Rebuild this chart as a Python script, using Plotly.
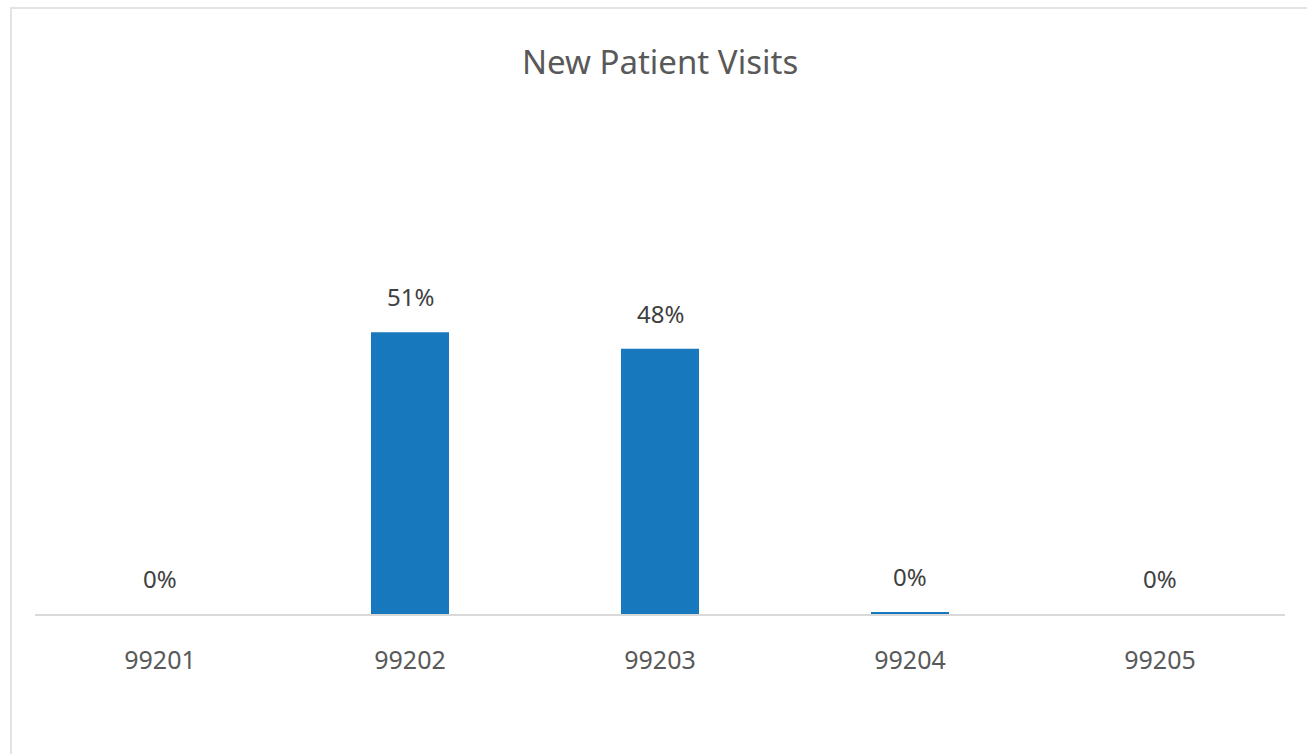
import plotly.graph_objects as go

categories = ["99201", "99202", "99203", "99204", "99205"]
values = [0.0, 51.0, 48.0, 0.3, 0.0]
labels = ["0%", "51%", "48%", "0%", "0%"]

W, H = 1307, 754
ml, mr, mt, mb = 35, 22, 100, 140
ymax = 93.0

fig = go.Figure()
fig.add_trace(go.Bar(x=categories, y=values, marker=dict(color="#1878BE", line=dict(width=0)),
                     hoverinfo="skip"))

for i, (v, t) in enumerate(zip(values, labels)):
    fig.add_annotation(x=i, y=v, text=t, showarrow=False, yanchor="bottom", yshift=17,
                       font=dict(family="Noto Sans", size=24, color="#404040"))

plot_w = W - ml - mr
plot_h = H - mt - mb
fig.add_shape(type="rect", xref="paper", yref="paper",
              x0=(11 - ml) / plot_w, x1=(W + 20 - ml) / plot_w,
              y0=-(H + 20 - (H - mb)) / plot_h, y1=((H - mb) - 8) / plot_h,
              line=dict(color="#e3e3e3", width=2), fillcolor="rgba(0,0,0,0)", layer="below")

fig.update_layout(
    width=W, height=H,
    margin=dict(l=ml, r=mr, t=mt, b=mb, autoexpand=False),
    paper_bgcolor="white", plot_bgcolor="white",
    bargap=0.688,
    showlegend=False,
    title=dict(text="New Patient Visits", x=0.505, xanchor="center", y=1 - 62 / H, yanchor="middle",
               font=dict(family="Noto Sans", size=33, color="#595959")),
    xaxis=dict(type="category", categoryorder="array", categoryarray=categories,
               range=[-0.5, len(categories) - 0.5],
               showline=True, linecolor="#d9d9d9", linewidth=1.5, ticks="", showgrid=False,
               tickfont=dict(family="Noto Sans", size=25, color="#595959"), ticklabelstandoff=23,
               zeroline=False, automargin=False),
    yaxis=dict(range=[0, ymax], visible=False, showgrid=False, zeroline=False, automargin=False),
)

fig.write_html("out.html", config={"displayModeBar": False},
               post_script="document.body.style.margin='0';document.body.style.padding='0';")
